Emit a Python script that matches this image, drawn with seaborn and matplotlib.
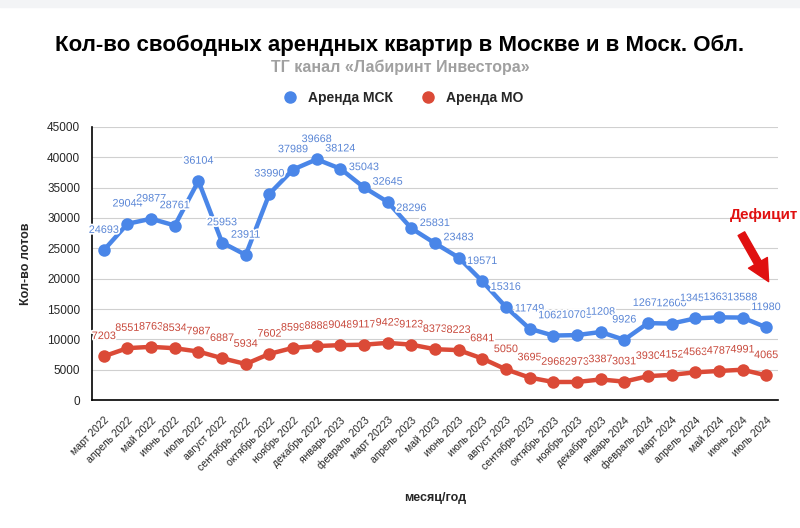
import numpy as np
import pandas as pd
import matplotlib
matplotlib.use("Agg")
import matplotlib.pyplot as plt
import matplotlib.patheffects as pe
from matplotlib.patches import Rectangle
import seaborn as sns

# data
months = ["март 2022", "апрель 2022", "май 2022", "июнь 2022", "июль 2022",
          "август 2022", "сентябрь 2022", "октябрь 2022", "ноябрь 2022",
          "декабрь 2022", "январь 2023", "февраль 2023", "март 20223",
          "апрель 2023", "май 2023", "июнь 2023", "июль 2023", "август 2023",
          "сентябрь 2023", "октябрь 2023", "ноябрь 2023", "декабрь 2023",
          "январь 2024", "февраль 2024", "март 2024", "апрель 2024",
          "май 2024", "июнь 2024", "июль 2024"]
msk = [24693, 29044, 29877, 28761, 36104, 25953, 23911, 33990, 37989, 39668,
       38124, 35043, 32645, 28296, 25831, 23483, 19571, 15316, 11749, 10621,
       10705, 11208, 9926, 12671, 12600, 13451, 13631, 13588, 11980]
mo = [7203, 8551, 8763, 8534, 7987, 6887, 5934, 7602, 8599, 8888,
      9048, 9117, 9423, 9123, 8373, 8223, 6841, 5050, 3695, 2968,
      2973, 3387, 3031, 3930, 4152, 4563, 4787, 4991, 4065]
series_names = ["Аренда МСК", "Аренда МО"]
yticks = list(range(0, 45001, 5000))

blue = "#4a86e8"
red = "#db4a37"
blue_lbl = "#5a86d6"
red_lbl = "#c8493c"

sns.set_theme(style="white")
plt.rcParams["font.family"] = ["Liberation Sans", "DejaVu Sans"]

df = pd.DataFrame({"month": months * 2,
                   "idx": list(range(len(months))) * 2,
                   "value": msk + mo,
                   "series": [series_names[0]] * len(msk) + [series_names[1]] * len(mo)})

fig = plt.figure(figsize=(8, 5.28), dpi=100)
fig.patches.append(Rectangle((0, 0.986), 1, 0.014, transform=fig.transFigure,
                             color="#f3f4f6", zorder=0))
ax = fig.add_axes([0.115, 0.2424, 0.8575, 0.5171])

sns.lineplot(data=df, x="idx", y="value", hue="series",
             palette=[blue, red], linewidth=3.2, marker="o", markersize=9,
             markeredgewidth=0, legend=False, ax=ax)

# data labels (white halo so later labels sit on top, as in the original)
halo = [pe.withStroke(linewidth=2.5, foreground="white")]
for vals, c in [(msk, blue_lbl), (mo, red_lbl)]:
    for i, v in enumerate(vals):
        ax.annotate(str(v), (i, v), xytext=(0, 11), textcoords="offset points",
                    ha="center", va="bottom", fontsize=7.8, color=c,
                    path_effects=halo, zorder=5)

ax.set_xlim(-0.5, len(months) - 0.5)
ax.set_ylim(0, 45000)
ax.set_yticks(yticks)
ax.set_yticklabels([str(t) for t in yticks], fontsize=8.5)
ax.set_xticks(range(len(months)))
ax.set_xticklabels(months, rotation=45, ha="right", rotation_mode="anchor",
                   fontsize=7.5)
ax.tick_params(axis="y", direction="inout", length=9, width=1, color="black", pad=4)
ax.tick_params(axis="x", direction="out", length=8, width=1, color="black", pad=3)
ax.yaxis.grid(True, color="#d0d0d0", linewidth=0.8)
ax.set_axisbelow(True)
for s in ["top", "right"]:
    ax.spines[s].set_visible(False)
for s in ["left", "bottom"]:
    ax.spines[s].set_color("black")
    ax.spines[s].set_linewidth(1.2)

ax.set_xlabel("месяц/год", fontsize=9, fontweight="bold", labelpad=14)
ax.set_ylabel("Кол-во лотов", fontsize=9, fontweight="bold", labelpad=11)

# titles and legend
fig.text(0.5, 0.914, "Кол-во свободных арендных квартир в Москве и в Моск. Обл.",
         ha="center", va="center", fontsize=16, fontweight="bold", color="black")
fig.text(0.5, 0.872, "ТГ канал «Лабиринт Инвестора»", ha="center", va="center",
         fontsize=11.5, fontweight="bold", color="#a0a0a0")
fig.legend(handles=[plt.Line2D([], [], marker="o", linestyle="", color=blue, markersize=8),
                    plt.Line2D([], [], marker="o", linestyle="", color=red, markersize=8)],
           labels=series_names, loc="center", bbox_to_anchor=(0.5, 0.814), ncol=2,
           frameon=False, prop={"weight": "bold", "size": 10},
           handletextpad=0.3, columnspacing=1.5)

# deficit arrow
fig.text(0.955, 0.593, "Дефицит", ha="center", va="center", fontsize=11,
         fontweight="bold", color="#e01010")
ax.annotate("", xy=(0.9625, 0.462), xycoords="figure fraction",
            xytext=(0.925, 0.562), textcoords="figure fraction",
            arrowprops=dict(arrowstyle="simple,head_width=1.3,head_length=1.3,tail_width=0.45",
                            color="#e01010"))

fig.savefig("out.png", dpi=100)
